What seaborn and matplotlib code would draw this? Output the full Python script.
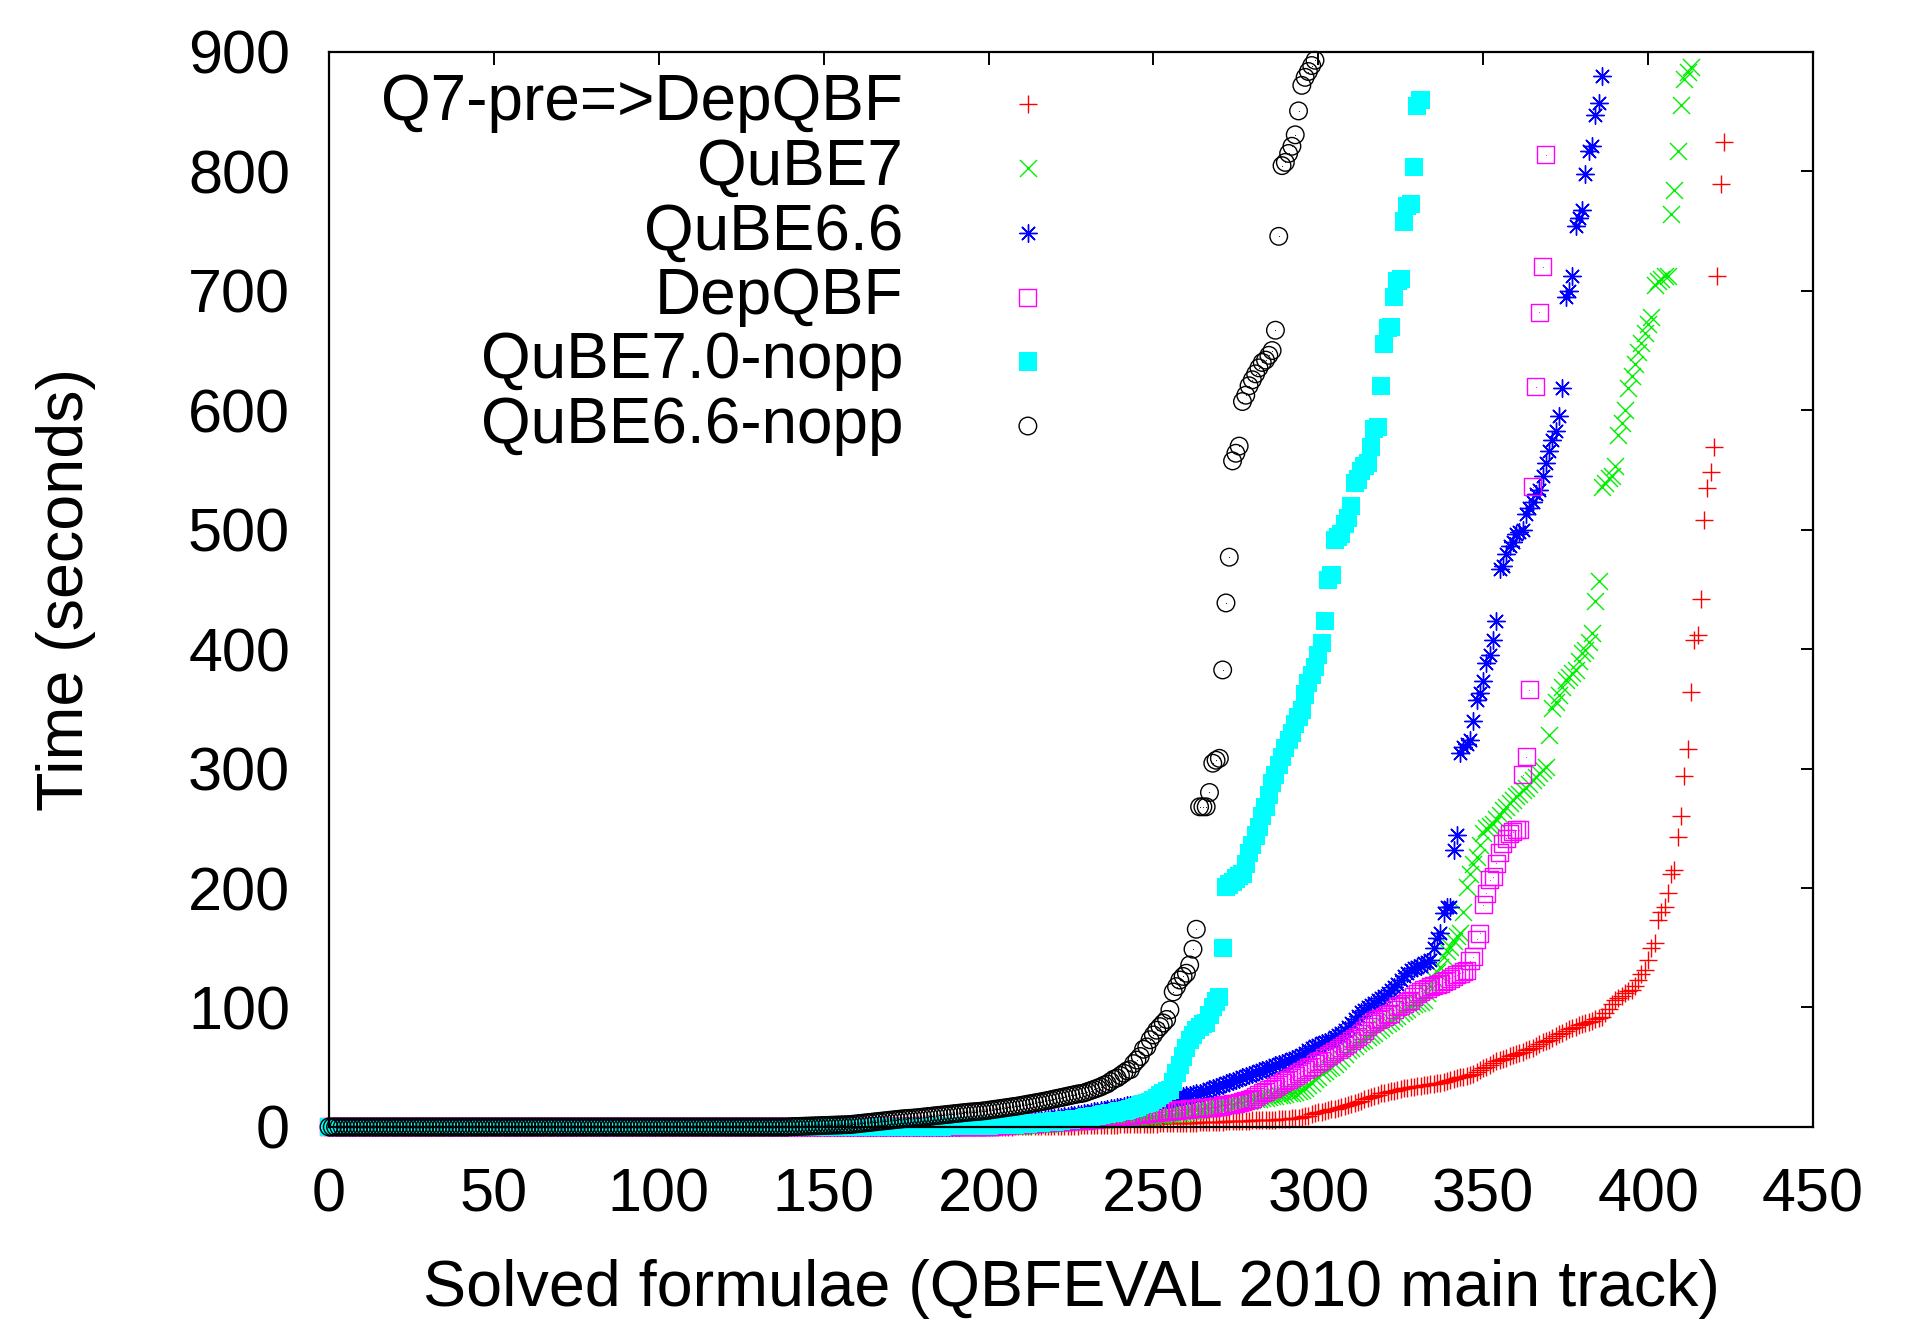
import numpy as np
import pandas as pd
import matplotlib
matplotlib.use("Agg")
import matplotlib.pyplot as plt
import seaborn as sns

# Cactus plot: value i = time (s) of the i-th fastest solved formula.
# *_flat = number of formulae solved in ~0 s before the curve lifts off,
# *_tail = the values read off the picture after that.

q7pre_flat = 200
q7pre_tail = [
    0.1, 0.1, 0.2, 0.2, 0.2, 0.3, 0.3, 0.3, 0.4, 0.4,
    0.4, 0.5, 0.5, 0.5, 0.6, 0.6, 0.7, 0.7, 0.8, 0.8,
    0.9, 0.9, 1.0, 1.0, 1.1, 1.1, 1.2, 1.2, 1.3, 1.3,
    1.4, 1.5, 1.5, 1.6, 1.7, 1.7, 1.8, 1.9, 1.9, 2.0,
    2.1, 2.1, 2.2, 2.3, 2.3, 2.4, 2.5, 2.5, 2.6, 2.7,
    2.7, 2.8, 2.9, 2.9, 3.0, 3.1, 3.1, 3.2, 3.3, 3.3,
    3.4, 3.5, 3.6, 3.7, 3.8, 3.9, 4.0, 4.1, 4.2, 4.3,
    4.4, 4.5, 4.6, 4.7, 4.8, 4.9, 5.0, 5.1, 5.2, 5.3,
    5.4, 5.5, 5.6, 5.7, 5.8, 5.9, 6.0, 6.2, 6.4, 6.6,
    6.8, 7.0, 7.3, 7.6, 7.9, 8.3, 8.8, 9.5, 10.5, 11.7,
    12.3, 12.9, 13.5, 14.1, 14.7, 15.3, 15.9, 16.5, 17.2, 18.0,
    19, 20, 21, 22, 23, 24, 25, 26, 27, 28,
    28.6, 29.2, 29.8, 30.4, 31.0, 31.6, 32.2, 32.8, 33.4, 33.8,
    34.2, 34.6, 35.0, 35.4, 35.8, 36.2, 36.6, 37.0, 37.6, 38.3,
    39.0, 39.8, 40.6, 41.4, 42.2, 43.0, 43.8, 44.6, 46, 47.5,
    49, 50.5, 52, 53.5, 55, 56, 57, 58, 59, 60,
    61, 62, 63, 64, 65, 66.5, 68, 69.5, 71, 72,
    73, 74.5, 76, 77.5, 79, 80.5, 82, 83, 84, 85,
    86, 87, 88, 89, 90, 91, 92, 95, 99, 103,
    106, 108, 110, 112, 114, 115, 118, 123, 128, 131,
    140, 150, 154, 173, 180, 184, 196, 212, 215, 243,
    260, 294, 316.5, 364, 408, 412, 442, 508, 534.5, 548,
    569, 712, 789.5, 824.7,
]

qube7_flat = 200
qube7_tail = [
    0.2, 0.3, 0.4, 0.5, 0.6, 0.7, 0.8, 0.9, 1.0, 1.1,
    1.2, 1.4, 1.6, 1.8, 2.0, 2.2, 2.4, 2.6, 2.8, 3.0,
    3.2, 3.4, 3.6, 3.8, 4.0, 4.2, 4.4, 4.6, 4.8, 5.0,
    5.2, 5.4, 5.6, 5.8, 6.0, 6.2, 6.4, 6.6, 6.8, 7.0,
    7.2, 7.4, 7.6, 7.8, 8.0, 8.2, 8.4, 8.6, 8.8, 9.0,
    9.3, 9.6, 9.9, 10.2, 10.5, 10.8, 11.1, 11.4, 11.7, 12.0,
    12.5, 13, 13.5, 14, 14.5, 15, 15.5, 16, 16.5, 17,
    17.5, 18, 18.5, 19, 19.5, 20, 20.5, 21, 21.5, 22,
    22.5, 23, 23.5, 24, 24.5, 25, 25.5, 26, 26.5, 27,
    27.5, 28, 28.5, 29, 30, 31, 33, 35, 37, 40,
    42, 45, 47, 49, 50.5, 53, 55, 58, 61, 64,
    66, 68, 70, 72, 73, 75, 77, 79, 81, 83,
    85, 87, 89, 91, 93, 95, 97, 99, 101, 103,
    104, 105, 106, 112, 118, 124, 130, 134, 142, 147,
    151, 156, 160, 162, 180, 201, 212, 220, 226, 236,
    246, 250, 252, 254, 258, 261, 265, 268, 271, 274,
    277, 279, 282, 284, 287, 290.5, 293, 296, 299, 301.7,
    328, 350.5, 356, 362, 368, 374, 377, 380, 382.6, 390,
    397, 399, 406, 413.6, 440, 457, 536, 539, 543, 545,
    553, 579, 589, 600, 619, 629, 639, 649, 656, 665,
    672, 678, 705, 708, 710, 712, 712, 764, 784, 817,
    855.7, 877, 883.6, 887,
]

qube66_flat = 190
qube66_tail = [
    0.2, 0.3, 0.4, 0.5, 0.6, 0.7, 0.8, 0.9, 1.0, 1.2,
    1.4, 1.6, 1.8, 2.0, 2.3, 2.6, 2.9, 3.2, 3.5, 3.8,
    4.1, 4.4, 4.7, 5.0, 5.4, 5.8, 6.2, 6.6, 7.0, 7.4,
    7.8, 8.2, 8.6, 9.0, 9.4, 9.8, 10.2, 10.6, 11.0, 11.5,
    12.0, 12.5, 13.0, 13.5, 14.0, 14.5, 15.0, 15.5, 16.0, 16.5,
    17, 17.5, 18, 18.5, 19, 19.5, 20, 20.5, 21, 21.5,
    22, 22.4, 22.8, 23.2, 23.6, 24, 24.5, 25, 25.5, 26,
    26.5, 27, 27.5, 28, 28.5, 29.5, 30.5, 31.5, 32.5, 33.5,
    34.5, 35.5, 36.5, 37.5, 38.5, 39.5, 40.5, 41.5, 42.5, 43.5,
    44.5, 45.5, 46.5, 47.5, 48.5, 49.5, 50.5, 51.5, 52.5, 53.5,
    54.5, 55.5, 56.5, 57.5, 58.5, 60, 62, 64, 66, 68,
    69, 70, 71, 72, 73, 75, 77, 79, 81, 84,
    87, 90, 93, 96, 98, 100, 102, 104, 106, 108,
    110, 112, 115, 117, 120, 123, 126, 129, 131, 133,
    133.5, 135, 137, 138, 140, 150, 158, 162, 179, 184,
    184, 232, 244.5, 313, 318, 321, 324, 340, 357.5, 363,
    373, 388, 395, 408, 423.6, 466.7, 470, 480, 486.5, 490,
    496.5, 498, 500, 513, 518, 523, 529.5, 533, 545, 556,
    566, 575, 582.6, 595.5, 619, 695, 700, 712, 754.5, 761,
    768, 797.6, 817, 821, 847, 857, 880,
]

depqbf_flat = 200
depqbf_tail = [
    0.5, 0.7, 0.9, 1.1, 1.3, 1.5, 1.7, 1.9, 2.1, 2.3,
    2.5, 2.7, 2.9, 3.1, 3.3, 3.5, 3.7, 3.9, 4.1, 4.3,
    4.5, 4.6, 4.7, 4.8, 4.9, 5.0, 5.1, 5.3, 5.5, 5.6,
    6.0, 6.3, 6.6, 6.9, 7.2, 7.5, 7.8, 8.1, 8.4, 8.7,
    9.0, 9.3, 9.6, 9.9, 10.2, 10.5, 10.8, 11.1, 11.4, 11.7,
    12.0, 12.3, 12.6, 12.9, 13.2, 13.5, 13.8, 14.1, 14.4, 14.7,
    15.0, 15.2, 15.4, 15.6, 15.8, 16.0, 16.2, 16.4, 16.7, 17.0,
    17.5, 18, 18.5, 19, 19.5, 20, 20.5, 21, 21.8, 22.6,
    24, 25.5, 27, 28.5, 30, 31, 32.5, 34, 35.5, 37,
    38.5, 40, 41.5, 43, 45, 46.5, 48, 49.5, 51, 53,
    54.5, 56, 58, 60, 61.7, 63.5, 65, 66.5, 68, 70,
    72, 74, 75.6, 78, 81, 84, 86.8, 88, 89.6, 91,
    92.4, 94, 95, 98, 101, 102, 103.5, 105, 106, 109,
    112, 113.5, 115, 116, 117.5, 118.5, 119.5, 120, 121.5, 123,
    124.5, 126, 127.5, 128.7, 130, 131, 139, 142.6, 157, 162,
    186, 195.6, 206.8, 209.6, 220.8, 230, 237.5, 241.7, 246, 247,
    248.7, 248.7, 294.7, 310, 366, 536, 619.6, 682, 720, 814,
]

qube70nopp_flat = 180
qube70nopp_tail = [
    0.1, 0.2, 0.2, 0.3, 0.3, 0.4, 0.4, 0.5, 0.5, 0.6,
    0.6, 0.7, 0.7, 0.8, 0.8, 0.9, 0.9, 1.0, 1.0, 1.1,
    1.2, 1.3, 1.4, 1.5, 1.6, 1.7, 1.8, 1.9, 2.0, 2.2,
    2.4, 2.6, 2.8, 3.0, 3.2, 3.4, 3.6, 3.8, 4.0, 4.3,
    4.6, 4.9, 5.2, 5.5, 5.8, 6.1, 6.4, 6.7, 7.0, 7.5,
    8.0, 8.5, 9.0, 9.5, 10.0, 10.5, 11.0, 11.5, 12.0, 12.5,
    13.0, 13.7, 14.5, 15.3, 16.0, 17.0, 18.0, 19.0, 20.0, 21.0,
    22.6, 24.5, 26.5, 28.5, 30, 31, 38, 45, 52, 59,
    66, 73, 77, 81, 84, 86, 87, 94, 100.7, 105,
    109, 149.6, 201, 203, 205, 208, 210, 212, 220, 229,
    236, 244, 251, 260, 268, 278, 288, 295, 303, 310,
    317, 324, 330, 337, 343, 349, 362, 372, 378, 385,
    395, 405, 423.6, 458, 462, 491.5, 494, 496.5, 505, 510,
    520, 539, 542, 549, 553, 556, 569, 584, 586, 620,
    655.6, 668.5, 670, 695, 708, 710, 758, 771, 773, 804,
    855, 860,
]

qube66nopp_flat = 140
qube66nopp_tail = [
    0.2, 0.3, 0.4, 0.5, 0.6, 0.7, 0.8, 0.9, 1.0, 1.1,
    1.2, 1.3, 1.4, 1.5, 1.6, 1.7, 1.8, 1.9, 2.0, 2.3,
    2.6, 2.9, 3.2, 3.5, 3.8, 4.1, 4.4, 4.7, 5.0, 5.3,
    5.6, 5.9, 6.2, 6.5, 6.8, 7.0, 7.2, 7.4, 7.6, 7.9,
    8.2, 8.5, 8.8, 9.1, 9.4, 9.7, 10.0, 10.3, 10.6, 10.9,
    11.2, 11.5, 11.8, 12.1, 12.4, 12.6, 12.8, 13.0, 13.3, 13.6,
    14.0, 14.4, 14.8, 15.2, 15.6, 16.0, 16.4, 16.8, 17.2, 17.6,
    18.1, 18.6, 19.1, 19.6, 20.1, 20.6, 21.1, 21.6, 22.2, 22.8,
    23.4, 24.0, 24.6, 25.2, 25.8, 26.4, 27.0, 27.6, 28.0, 28.5,
    29.5, 30.5, 31.5, 32.5, 33.5, 35, 36, 38, 40, 41,
    43, 45, 47, 48, 53, 56, 59, 65, 67, 73,
    77, 81, 84, 87, 90, 98, 113, 117.5, 123, 126,
    128.7, 135.6, 148.8, 165.5, 268, 268, 268, 280, 304.5, 307,
    308.6, 382.6, 438.7, 477, 557.6, 564, 570, 607.3, 612.6, 620.5,
    625.5, 630.5, 635.5, 640, 642, 646, 650, 667, 745.6, 804.8,
    807.5, 815, 821, 830.6, 850.6, 872, 878.7, 883.6, 888.6, 893,
]

solvers = ["Q7-pre=>DepQBF", "QuBE7", "QuBE6.6", "DepQBF", "QuBE7.0-nopp", "QuBE6.6-nopp"]
flats = [q7pre_flat, qube7_flat, qube66_flat, depqbf_flat, qube70nopp_flat, qube66nopp_flat]
tails = [q7pre_tail, qube7_tail, qube66_tail, depqbf_tail, qube70nopp_tail, qube66nopp_tail]

x_ticks = [0, 50, 100, 150, 200, 250, 300, 350, 400, 450]
y_ticks = [0, 100, 200, 300, 400, 500, 600, 700, 800, 900]

# build one long table
frames = []
for name, flat, tail in zip(solvers, flats, tails):
    times = np.concatenate([np.zeros(flat), np.array(tail, dtype=float)])
    frames.append(pd.DataFrame({"solved": np.arange(len(times)), "time": times, "solver": name}))
df = pd.concat(frames, ignore_index=True)

# gnuplot-like point styles
styles = {
    "Q7-pre=>DepQBF": dict(marker="+", color="#ff0000", s=150, linewidth=1.0),
    "QuBE7": dict(marker="x", color="#00ee00", s=150, linewidth=1.0),
    "QuBE6.6": dict(marker=(8, 2, 0), color="#0000ff", s=160, linewidth=1.0),
    "DepQBF": dict(marker="s", color="#ff00ff", facecolor="none", edgecolor="#ff00ff", s=150, linewidth=1.0),
    "QuBE7.0-nopp": dict(marker="s", color="#00ffff", edgecolor="none", s=170, linewidth=0),
    "QuBE6.6-nopp": dict(marker="o", color="#000000", facecolor="none", edgecolor="#000000", s=160, linewidth=1.0),
}
dotted = {"DepQBF": "#ff00ff", "QuBE6.6-nopp": "#000000"}

sns.set_theme(style="white")
plt.rcParams["font.family"] = ["Liberation Sans", "DejaVu Sans"]
plt.rcParams["text.color"] = "black"
plt.rcParams["axes.labelcolor"] = "black"

fig = plt.figure(figsize=(19.33, 13.21), dpi=100)
ax = fig.add_axes([0.1702, 0.1469, 0.7677, 0.8138])

for name in solvers:
    sub = df[df["solver"] == name]
    sns.scatterplot(data=sub, x="solved", y="time", ax=ax, label=name, clip_on=False, **styles[name])
    if name in dotted:
        # gnuplot puts a tiny dot in the middle of open symbols
        ax.scatter(sub["solved"], sub["time"], marker=".", s=1.5, color=dotted[name],
                   linewidths=0, clip_on=False)

ax.set_xlim(0, 450)
ax.set_ylim(0, 900)
ax.set_xticks(x_ticks)
ax.set_yticks(y_ticks)
ax.tick_params(axis="both", direction="in", length=9, width=1.4, top=True, right=True,
               labelsize=44, colors="black")
ax.tick_params(axis="x", pad=29)
ax.tick_params(axis="y", pad=28)
for sp in ax.spines.values():
    sp.set_visible(True)
    sp.set_color("black")
    sp.set_linewidth(1.6)

ax.set_xlabel("Solved formulae (QBFEVAL 2010 main track)", fontsize=46.5)
ax.set_ylabel("Time (seconds)", fontsize=46.5)
ax.xaxis.set_label_coords(0.5, -0.123)
ax.yaxis.set_label_coords(-0.157, 0.5)

leg = ax.legend(loc="upper right", bbox_to_anchor=(0.514, 0.980), frameon=False,
                markerfirst=False, fontsize=46, borderpad=0, borderaxespad=0,
                labelspacing=0.07, handletextpad=0.95, handlelength=2.0, scatterpoints=1)

fig.savefig("out.png", dpi=100)
